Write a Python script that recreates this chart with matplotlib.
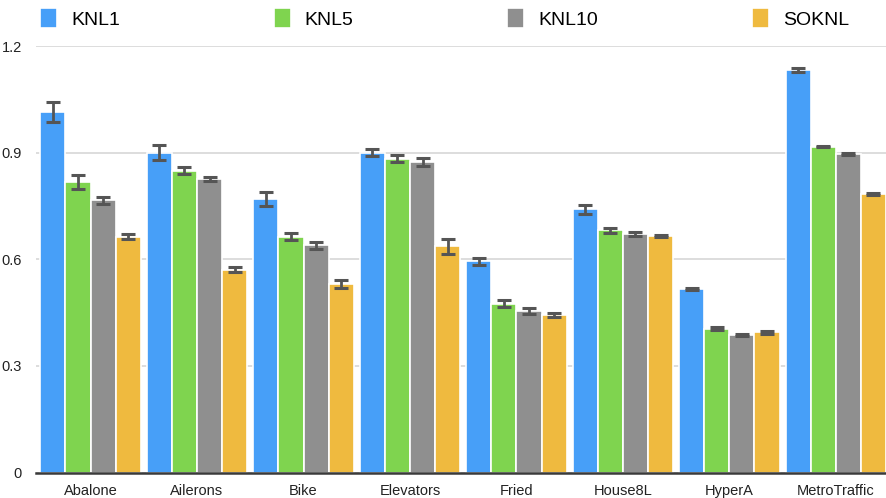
import numpy as np
import matplotlib
matplotlib.use("Agg")
import matplotlib.pyplot as plt

plt.rcParams['font.family'] = ['Liberation Sans', 'DejaVu Sans']

datasets = ["Abalone", "Ailerons", "Bike", "Elevators", "Fried", "House8L", "HyperA", "MetroTraffic"]
series_names = ["KNL1", "KNL5", "KNL10", "SOKNL"]

knl1 = [1.014, 0.900, 0.769, 0.900, 0.594, 0.740, 0.517, 1.132]
knl5 = [0.817, 0.849, 0.663, 0.883, 0.475, 0.682, 0.405, 0.917]
knl10 = [0.766, 0.825, 0.639, 0.873, 0.454, 0.672, 0.386, 0.895]
soknl = [0.663, 0.571, 0.530, 0.636, 0.443, 0.665, 0.394, 0.783]

knl1_err = [0.029, 0.021, 0.020, 0.010, 0.010, 0.012, 0.003, 0.006]
knl5_err = [0.020, 0.010, 0.010, 0.010, 0.010, 0.007, 0.003, 0.002]
knl10_err = [0.010, 0.006, 0.009, 0.012, 0.008, 0.006, 0.003, 0.003]
soknl_err = [0.007, 0.008, 0.012, 0.021, 0.006, 0.003, 0.003, 0.003]

y_ticks = [0, 0.3, 0.6, 0.9, 1.2]
y_tick_labels = ["0", "0.3", "0.6", "0.9", "1.2"]

colors = ["#479ff8", "#7fd44f", "#8f8f8f", "#efba3f"]

fig = plt.figure(figsize=(8.86, 4.98), dpi=100)
ax = fig.add_axes([36 / 886, (498 - 472.5) / 498, 1 - 36 / 886, (472.5 - 46) / 498])

x = np.arange(len(datasets))
pitch = 0.235
values = [knl1, knl5, knl10, soknl]
errors = [knl1_err, knl5_err, knl10_err, soknl_err]
for k, (vals, errs) in enumerate(zip(values, errors)):
    offs = (k - 1.5) * pitch
    ax.bar(x + offs, vals, width=pitch, color=colors[k], edgecolor="white",
           linewidth=1.2, label=series_names[k], zorder=2)
    ax.errorbar(x + offs, vals, yerr=errs, fmt="none", ecolor="#555555",
                elinewidth=2.0, capsize=4.8, capthick=2.2, zorder=3)

ax.set_xlim(-0.512, 7.47)
ax.set_ylim(0, 1.2)
ax.set_yticks(y_ticks)
ax.set_yticklabels(y_tick_labels, fontsize=10.5, color="#222222")
ax.set_xticks(x)
ax.set_xticklabels(datasets, fontsize=10.5, color="#222222")
ax.tick_params(axis="both", length=0)
ax.tick_params(axis="y", pad=10)
ax.tick_params(axis="x", pad=8)

ax.grid(axis="y", color="#dddddd", linewidth=1.4, zorder=0)
ax.set_axisbelow(True)
for side in ["top", "right", "left"]:
    ax.spines[side].set_visible(False)
ax.spines["bottom"].set_color("#3a3a3a")
ax.spines["bottom"].set_linewidth(1.8)
ax.spines["bottom"].set_zorder(4)

fig.legend(loc="upper left", bbox_to_anchor=(40 / 886, 1 - 8 / 498), ncol=4, frameon=False,
           fontsize=14, handlelength=0.88, handleheight=1.2, handletextpad=0.72,
           columnspacing=7.9, borderaxespad=0, borderpad=0)

fig.savefig("out.png", dpi=100)
